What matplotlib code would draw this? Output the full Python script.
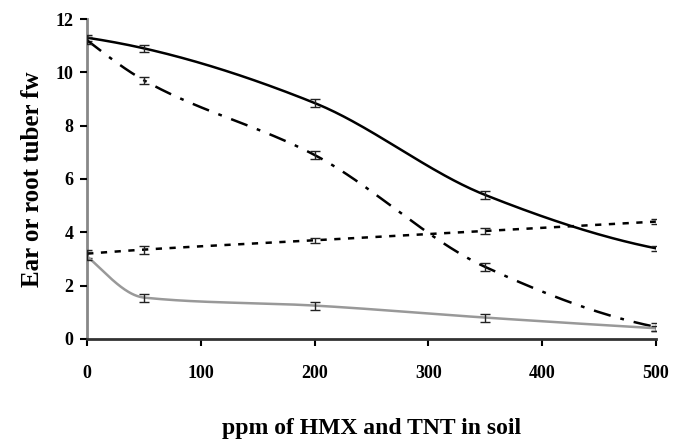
import numpy as np
import matplotlib
matplotlib.use('Agg')
import matplotlib.pyplot as plt

# ppm of HMX and TNT in soil
ppm = [0, 50, 200, 350, 500]

# four curves
solid_black = [11.3, 10.9, 8.85, 5.4, 3.4]
solid_black_err = [0.12, 0.12, 0.15, 0.15, 0.1]
dash_dot = [11.2, 9.7, 6.9, 2.7, 0.45]
dash_dot_err = [0.12, 0.12, 0.15, 0.15, 0.15]
dotted = [3.2, 3.35, 3.7, 4.05, 4.4]
dotted_err = [0.15, 0.15, 0.1, 0.12, 0.1]
gray = [3.1, 1.55, 1.25, 0.8, 0.4]
gray_err = [0.15, 0.15, 0.15, 0.15, 0.1]


def smooth(x, y, n=60):
    # monotone cubic (Fritsch-Carlson) to mimic the smoothed lines
    x = np.asarray(x, float)
    y = np.asarray(y, float)
    h = np.diff(x)
    d = np.diff(y) / h
    m = np.zeros_like(y)
    m[0], m[-1] = d[0], d[-1]
    for i in range(1, len(x) - 1):
        if d[i - 1] * d[i] <= 0:
            m[i] = 0
        else:
            w1 = 2 * h[i] + h[i - 1]
            w2 = h[i] + 2 * h[i - 1]
            m[i] = (w1 + w2) / (w1 / d[i - 1] + w2 / d[i])
    # steeper start for end slopes (three-point formula)
    m[0] = ((2 * h[0] + h[1]) * d[0] - h[0] * d[1]) / (h[0] + h[1])
    if m[0] * d[0] <= 0:
        m[0] = 0
    m[-1] = ((2 * h[-1] + h[-2]) * d[-1] - h[-1] * d[-2]) / (h[-1] + h[-2])
    if m[-1] * d[-1] <= 0:
        m[-1] = 0
    xs, ys = [], []
    t = np.linspace(0, 1, n)
    for i in range(len(x) - 1):
        h00 = 2 * t ** 3 - 3 * t ** 2 + 1
        h10 = t ** 3 - 2 * t ** 2 + t
        h01 = -2 * t ** 3 + 3 * t ** 2
        h11 = t ** 3 - t ** 2
        xs.extend(x[i] + t * h[i])
        ys.extend(h00 * y[i] + h10 * h[i] * m[i] + h01 * y[i + 1] + h11 * h[i] * m[i + 1])
    return xs, ys


plt.rcParams['font.family'] = ['Liberation Serif']
plt.rcParams['font.weight'] = 'bold'

fig = plt.figure(figsize=(6.81, 4.43), dpi=100)
ax = fig.add_axes([0.128, 0.235, 0.835, 0.722])

series = [
    (solid_black, solid_black_err, dict(color='black', lw=1.8, ls='-')),
    (dash_dot, dash_dot_err, dict(color='black', lw=1.8, dashes=(7, 4, 1.5, 4))),
    (dotted, dotted_err, dict(color='black', lw=1.8, dashes=(2.5, 3))),
    (gray, gray_err, dict(color='#999999', lw=1.8, ls='-')),
]
for y, e, style in series:
    sx, sy = smooth(ppm, y)
    ax.plot(sx, sy, **style)
    ax.errorbar(ppm, y, yerr=e, fmt='none', ecolor='#222222', elinewidth=1,
                capsize=3.5, capthick=1)

ax.set_xlim(0, 500)
ax.set_ylim(0, 12)
ax.set_xticks([0, 100, 200, 300, 400, 500])
ax.set_yticks([0, 2, 4, 6, 8, 10, 12])
ax.tick_params(direction='out', length=5, width=1.5, labelsize=13, pad=5)
ax.tick_params(axis='x', pad=14)

ax.spines['top'].set_visible(False)
ax.spines['right'].set_visible(False)
ax.spines['left'].set_color('#888888')
ax.spines['left'].set_linewidth(2)
ax.spines['bottom'].set_color('#333333')
ax.spines['bottom'].set_linewidth(2)
ax.spines['left'].set_zorder(0)

ax.set_ylabel('Ear or root tuber fw', fontsize=18, fontweight='bold', labelpad=8)
ax.set_xlabel('ppm of HMX and TNT in soil', fontsize=17, fontweight='bold', labelpad=26)

fig.savefig('out.png', dpi=100)
